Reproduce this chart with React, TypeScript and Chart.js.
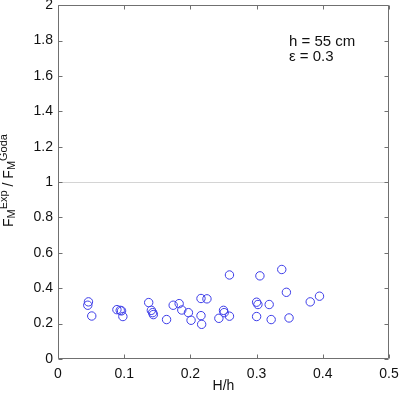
import React, { useEffect, useRef } from 'react';
import { Chart, registerables } from 'chart.js';

Chart.register(...registerables);

// Data
const xValues = [0.046, 0.045, 0.051, 0.089, 0.094, 0.096, 0.098, 0.137, 0.141, 0.143, 0.144, 0.164, 0.174, 0.183, 0.187, 0.197, 0.201, 0.216, 0.225, 0.216, 0.217, 0.243, 0.250, 0.251, 0.259, 0.259, 0.300, 0.302, 0.300, 0.305, 0.319, 0.322, 0.338, 0.345, 0.349, 0.381, 0.395];
const yValues = [0.323, 0.304, 0.243, 0.279, 0.275, 0.272, 0.240, 0.319, 0.275, 0.262, 0.251, 0.223, 0.304, 0.313, 0.277, 0.262, 0.219, 0.342, 0.340, 0.245, 0.196, 0.230, 0.275, 0.262, 0.242, 0.475, 0.321, 0.308, 0.240, 0.470, 0.308, 0.223, 0.506, 0.377, 0.232, 0.323, 0.355];

const xTicks = [0, 0.1, 0.2, 0.3, 0.4, 0.5];
const yTicks = [0, 0.2, 0.4, 0.6, 0.8, 1, 1.2, 1.4, 1.6, 1.8, 2];
const referenceLineValue = 1;

const xTitle = 'H/h';
const yTitleParts: { t: string; k: 'main' | 'sub' | 'sup' }[] = [
  { t: 'F', k: 'main' },
  { t: 'M', k: 'sub' },
  { t: 'Exp', k: 'sup' },
  { t: ' / ', k: 'main' },
  { t: 'F', k: 'main' },
  { t: 'M', k: 'sub' },
  { t: 'Goda', k: 'sup' },
];
const annotationLines = ['h = 55 cm', 'ε = 0.3'];

const FONT = "'Liberation Sans', Arial, sans-serif";

const decorPlugin = {
  id: 'decor',
  afterDraw(chart: any) {
    const { ctx, chartArea, scales } = chart;
    const { left, right, top, bottom } = chartArea;
    const xs = scales.x;
    const ys = scales.y;
    ctx.save();
    // box
    ctx.strokeStyle = '#707070';
    ctx.lineWidth = 1;
    const L = Math.round(left) + 0.5;
    const R = Math.round(right) - 0.5;
    const T = Math.round(top) + 0.5;
    const B = Math.round(bottom) - 0.5;
    ctx.beginPath();
    ctx.rect(L, T, R - L, B - T);
    ctx.stroke();
    // inner ticks
    const tl = 4;
    ctx.beginPath();
    xTicks.forEach((v) => {
      const p = Math.round(xs.getPixelForValue(v)) + 0.5;
      ctx.moveTo(p, B);
      ctx.lineTo(p, B - tl);
      ctx.moveTo(p, T);
      ctx.lineTo(p, T + tl);
    });
    yTicks.forEach((v) => {
      const p = Math.round(ys.getPixelForValue(v)) + 0.5;
      ctx.moveTo(L, p);
      ctx.lineTo(L + tl, p);
      ctx.moveTo(R, p);
      ctx.lineTo(R - tl, p);
    });
    ctx.stroke();

    // x title
    ctx.fillStyle = '#111';
    ctx.font = `14px ${FONT}`;
    ctx.textAlign = 'center';
    ctx.textBaseline = 'alphabetic';
    ctx.fillText(xTitle, (left + right) / 2, 390);

    // annotation
    ctx.textAlign = 'left';
    ctx.font = `15px ${FONT}`;
    ctx.fillText(annotationLines[0], 289, 46);
    ctx.fillText(annotationLines[1], 289, 61);

    // y title (rotated)
    ctx.translate(12.5, 227);
    ctx.rotate(-Math.PI / 2);
    let pos = 0;
    yTitleParts.forEach((part) => {
      const size = part.k === 'main' ? 14 : 11;
      const off = part.k === 'sub' ? 2.5 : part.k === 'sup' ? -5.5 : 0;
      ctx.font = `${size}px ${FONT}`;
      ctx.fillText(part.t, pos, off);
      pos += ctx.measureText(part.t).width;
    });
    ctx.restore();
  },
};

export default function App() {
  const ref = useRef<HTMLCanvasElement | null>(null);
  useEffect(() => {
    document.body.style.margin = '0';
    if (!ref.current) return;
    const points = xValues.map((x, i) => ({ x, y: yValues[i] }));
    const chart = new Chart(ref.current, {
      type: 'scatter',
      data: {
        datasets: [
          {
            data: points,
            pointStyle: 'circle',
            pointRadius: 4.2,
            pointHoverRadius: 4.2,
            borderColor: 'rgb(60,60,232)',
            backgroundColor: 'rgba(0,0,0,0)',
            borderWidth: 1,
          },
        ],
      },
      options: {
        responsive: false,
        animation: false,
        events: [],
        layout: { padding: { top: 5, right: 11, left: 0, bottom: 0 } },
        plugins: { legend: { display: false }, tooltip: { enabled: false }, title: { display: false } },
        scales: {
          x: {
            type: 'linear',
            min: 0,
            max: 0.5,
            afterBuildTicks: (s: any) => {
              s.ticks = xTicks.map((v) => ({ value: v }));
            },
            afterFit: (s: any) => {
              s.height = 38;
              s.paddingLeft = 0;
              s.paddingRight = 0;
            },
            grid: { display: false, drawTicks: false },
            border: { display: false },
            ticks: {
              color: '#111',
              font: { family: FONT, size: 14 },
              padding: 7,
              maxRotation: 0,
              autoSkip: false,
              callback: (v: any) => String(Number(Number(v).toFixed(1))),
            },
          },
          y: {
            type: 'linear',
            min: 0,
            max: 2,
            afterBuildTicks: (s: any) => {
              s.ticks = yTicks.map((v) => ({ value: v }));
            },
            afterFit: (s: any) => {
              s.width = 58;
              s.paddingTop = 0;
              s.paddingBottom = 0;
            },
            grid: {
              drawTicks: false,
              lineWidth: 1,
              color: (c: any) =>
                c.tick && Math.abs(c.tick.value - referenceLineValue) < 1e-9 ? '#d4d4d4' : 'rgba(0,0,0,0)',
            },
            border: { display: false },
            ticks: {
              color: '#111',
              font: { family: FONT, size: 14 },
              padding: 5,
              autoSkip: false,
              callback: (v: any) => String(Number(Number(v).toFixed(1))),
            },
          },
        },
      },
      plugins: [decorPlugin],
    });
    return () => chart.destroy();
  }, []);
  return (
    <div style={{ position: 'absolute', left: 0, top: 0, width: 400, height: 397, background: '#fff' }}>
      <canvas ref={ref} width={400} height={397} style={{ display: 'block', width: 400, height: 397 }} />
    </div>
  );
}
